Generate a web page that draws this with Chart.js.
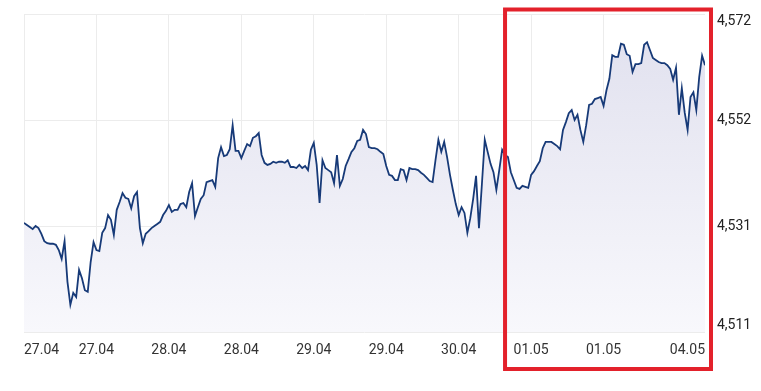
<!DOCTYPE html>
<html>
<head>
<meta charset="utf-8">
<script src="https://cdn.jsdelivr.net/npm/chart.js@4.4.1/dist/chart.umd.min.js"></script>
<style>
  html, body { margin: 0; padding: 0; background: #fff; }
  #wrap { width: 761px; height: 391px; position: relative; }
</style>
</head>
<body>
<div id="wrap"><canvas id="graph"></canvas></div>
<script>
// quotes, one every ~2.9 px of the reference (25 per vertical gridline)
const prices = [
    4.5319, 4.5315, 4.5311, 4.5307, 4.5313, 4.5309, 4.5298, 4.5284, 4.5280, 4.5279,
    4.5279, 4.5277, 4.5267, 4.5250, 4.5284, 4.5206, 4.5162, 4.5185, 4.5177, 4.5229,
    4.5213, 4.5190, 4.5187, 4.5244, 4.5282, 4.5267, 4.5265, 4.5300, 4.5309, 4.5334,
    4.5325, 4.5296, 4.5344, 4.5359, 4.5376, 4.5367, 4.5365, 4.5347, 4.5370, 4.5378,
    4.5309, 4.5280, 4.5298, 4.5303, 4.5309, 4.5313, 4.5317, 4.5321, 4.5334, 4.5342,
    4.5353, 4.5340, 4.5344, 4.5344, 4.5355, 4.5357, 4.5349, 4.5378, 4.5395, 4.5332,
    4.5349, 4.5365, 4.5372, 4.5397, 4.5399, 4.5401, 4.5388, 4.5443, 4.5464, 4.5447,
    4.5449, 4.5460, 4.5506, 4.5457, 4.5457, 4.5443, 4.5457, 4.5470, 4.5466, 4.5482,
    4.5485, 4.5491, 4.5449, 4.5434, 4.5430, 4.5432, 4.5436, 4.5434, 4.5436, 4.5436,
    4.5434, 4.5439, 4.5426, 4.5426, 4.5424, 4.5430, 4.5424, 4.5428, 4.5420, 4.5459,
    4.5472, 4.5430, 4.5357, 4.5439, 4.5424, 4.5420, 4.5416, 4.5395, 4.5449, 4.5390,
    4.5403, 4.5428, 4.5441, 4.5455, 4.5462, 4.5476, 4.5478, 4.5497, 4.5489, 4.5464,
    4.5462, 4.5462, 4.5460, 4.5455, 4.5451, 4.5428, 4.5411, 4.5409, 4.5401, 4.5401,
    4.5422, 4.5420, 4.5401, 4.5424, 4.5422, 4.5422, 4.5420, 4.5415, 4.5411, 4.5405,
    4.5399, 4.5397, 4.5439, 4.5478, 4.5455, 4.5474, 4.5445, 4.5411, 4.5382, 4.5355,
    4.5334, 4.5349, 4.5338, 4.5300, 4.5328, 4.5365, 4.5409, 4.5309, 4.5392, 4.5478,
    4.5455, 4.5432, 4.5416, 4.5382, 4.5420, 4.5459, 4.5449, 4.5445, 4.5416, 4.5401,
    4.5386, 4.5384, 4.5390, 4.5388, 4.5386, 4.5411, 4.5418, 4.5428, 4.5437, 4.5462,
    4.5474, 4.5474, 4.5474, 4.5470, 4.5466, 4.5460, 4.5497, 4.5512, 4.5529, 4.5535,
    4.5516, 4.5526, 4.5497, 4.5474, 4.5506, 4.5545, 4.5547, 4.5556, 4.5558, 4.5560,
    4.5543, 4.5573, 4.5595, 4.5640, 4.5637, 4.5637, 4.5662, 4.5660, 4.5642, 4.5639,
    4.5608, 4.5623, 4.5623, 4.5625, 4.5660, 4.5665, 4.5650, 4.5635, 4.5631, 4.5627,
    4.5625, 4.5625, 4.5621, 4.5614, 4.5593, 4.5616, 4.5526, 4.5577, 4.5530, 4.5497,
    4.5560, 4.5569, 4.5535, 4.5598, 4.5639, 4.5621
];

const xTickIndex = [0, 25, 50, 75, 100, 125, 150, 175, 200, 235];
const xTickLabels = ['27.04', '27.04', '28.04', '28.04', '29.04', '29.04', '30.04', '01.05', '01.05', '04.05'];
const yTickValues = [4.5110, 4.5313, 4.5516, 4.5719];

const highlightFrom = 166; // red frame starts at this quote

const gridColor = '#ececec';
const font = {family: 'Roboto', size: 14};

// red frame drawn around the last days
const frame = {
    id: 'frame',
    afterDraw(chart) {
        const c = chart.ctx;
        const area = chart.chartArea;
        const left = chart.scales.x.getPixelForValue(highlightFrom);
        c.save();
        c.strokeStyle = '#e3212b';
        c.lineWidth = 4;
        c.strokeRect(left, area.top - 4.5, area.right + 6 - left, area.bottom + 37 - area.top + 4.5);
        c.restore();
    }
};

// keep the top and bottom price labels inside the plot height
const edgeLabels = {
    id: 'edgeLabels',
    beforeDraw(chart) {
        const y = chart.scales.y;
        const items = y._computeLabelItems(chart.chartArea);
        if (!items.length) return;
        items[0].options.textBaseline = 'bottom';
        items[items.length - 1].options.textBaseline = 'top';
        y._labelItems = items;
    }
};

const ctx = document.getElementById('graph');

var myChart = new Chart(ctx, {
    type: 'line',
    data: {
        datasets: [{
            data: prices.map((p, i) => ({x: i, y: p})),
            borderColor: '#173a78',
            borderWidth: 1.8,
            pointRadius: 0,
            tension: 0,
            fill: 'start',
            backgroundColor: (c) => {
                const area = c.chart.chartArea;
                if (!area) return 'rgba(230,230,242,0.6)';
                const g = c.chart.ctx.createLinearGradient(0, area.top, 0, area.bottom);
                g.addColorStop(0, '#e0e0ee');
                g.addColorStop(1, '#f8f8fc');
                return g;
            }
        }]
    },
    options: {
        responsive: true,
        maintainAspectRatio: false,
        animation: false,
        layout: {padding: {left: 24, top: 14, right: 0, bottom: 0}},
        plugins: {legend: {display: false}, tooltip: {enabled: false}},
        scales: {
            x: {
                type: 'linear',
                min: 0,
                max: prices.length - 1,
                afterBuildTicks: (scale) => { scale.ticks = xTickIndex.map(v => ({value: v})); },
                afterFit: (scale) => { scale.height = 59; },
                grid: {
                    color: (c) => (c.tick && c.tick.value === prices.length - 1) ? 'rgba(0,0,0,0)' : gridColor,
                    drawTicks: false
                },
                border: {display: false},
                ticks: {
                    autoSkip: false,
                    maxRotation: 0,
                    align: 'inner',
                    padding: 10,
                    color: '#333',
                    font: font,
                    callback: (v) => xTickLabels[xTickIndex.indexOf(v)]
                }
            },
            y: {
                position: 'right',
                min: yTickValues[0],
                max: yTickValues[yTickValues.length - 1],
                afterBuildTicks: (scale) => { scale.ticks = yTickValues.map(v => ({value: v})); },
                afterFit: (scale) => {
                    scale.width = 56;
                    scale.paddingTop = 0;
                    scale.paddingBottom = 0;
                },
                grid: {color: gridColor, drawTicks: false},
                border: {display: false},
                ticks: {
                    padding: 12,
                    color: '#222',
                    font: font,
                    callback: (v) => v.toFixed(3).replace('.', ',')
                }
            }
        }
    },
    plugins: [frame, edgeLabels]
});
</script>
</body>
</html>
